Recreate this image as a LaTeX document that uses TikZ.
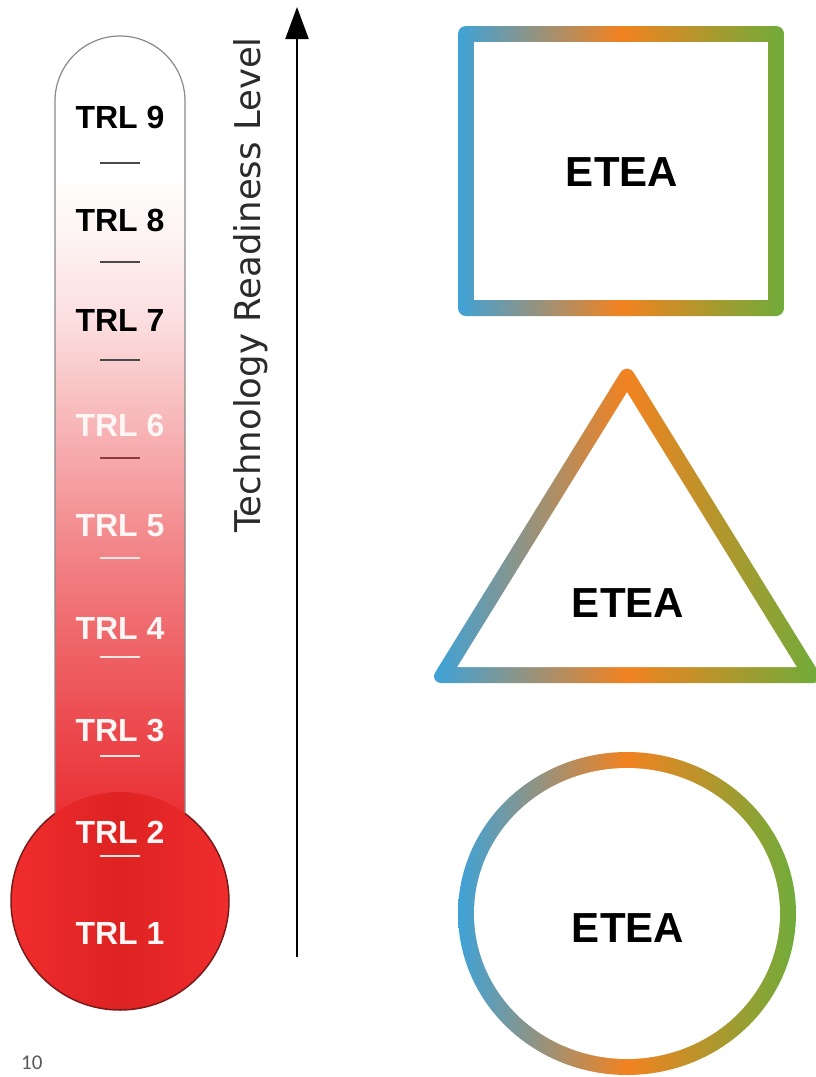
\documentclass[tikz,border=0pt]{standalone}
\usepackage{fontspec}
\setmainfont{Liberation Sans}
\newfontfamily\dejavu{DejaVu Sans}
\newfontfamily\carlito{Carlito}
\usetikzlibrary{arrows.meta}
\definecolor{gblue}{HTML}{3AA3DC}
\definecolor{gorange}{HTML}{F28220}
\definecolor{ggreen}{HTML}{6CAD3B}
\definecolor{tred}{HTML}{E8262B}
\definecolor{bulbdark}{HTML}{DE2222}
\definecolor{bulblight}{HTML}{F02D2D}
\definecolor{bulbline}{HTML}{7A1A1A}
\definecolor{tubeline}{HTML}{8A8A8A}
\definecolor{axisgray}{HTML}{2B2B2B}
\definecolor{pgnum}{HTML}{595959}
\definecolor{darktick}{HTML}{4A4A4A}
\definecolor{redtick}{HTML}{8A3A3E}
\definecolor{lighttick}{HTML}{FBE6E6}
\definecolor{lighttext}{HTML}{FFF6F6}
\begin{document}
\begin{tikzpicture}[x=1pt,y=-1pt,
  trl/.style={font=\bfseries\fontsize{32}{36}\selectfont, inner sep=0pt},
  etea/.style={font=\bfseries\fontsize{42}{48}\selectfont, inner sep=0pt, text=black},
  tickmark/.style={line width=2pt},
  ring/.style={left color=gblue, right color=ggreen, middle color=gorange},
  axislabel/.style={font=\dejavu\fontsize{35.5}{40}\selectfont, text=axisgray, rotate=90, anchor=base, inner sep=0pt}]
\useasboundingbox (0,0) rectangle (815,1077);
\fill[white] (0,0) rectangle (815,1077);

% ---------- thermometer tube ----------
\begin{scope}
\clip (55,880) -- (55,101) arc[start angle=180,end angle=360,radius=65] -- (185,880) -- cycle;
\foreach \ya/\yb/\pa/\pb in {30/170/0/0, 170/220/0/4, 220/320/4/15, 320/425/15/34, 425/525/34/52,
   525/628/52/69, 628/730/69/84, 730/820/84/96, 820/900/96/100}{
  \shade[top color=tred!\pa!white, bottom color=tred!\pb!white] (50,\ya) rectangle (190,\yb+0.6);
}
\end{scope}
\draw[tubeline, line width=1.2pt] (55,813.5) -- (55,101) arc[start angle=180,end angle=360,radius=65] -- (185,813.5);

% ---------- bulb ----------
\shade[left color=bulblight, right color=bulblight, middle color=bulbdark] (120,901) circle[radius=109];
\draw[bulbline, line width=1.5pt] (185,813.5) arc[start angle=-53.39, end angle=233.39, radius=109];

% ---------- tick marks ----------
\foreach \y in {163,262,360}{\draw[tickmark, darktick] (100,\y) -- (140,\y);}
\draw[tickmark, redtick] (100,458) -- (140,458);
\foreach \y in {558,657,756,856}{\draw[tickmark, lighttick] (100,\y) -- (140,\y);}

% ---------- TRL labels ----------
\node[trl, text=black] (t9) at (120,117) {TRL 9};
\node[trl, text=black] (t8) at (120,220) {TRL 8};
\node[trl, text=black] (t7) at (120,320) {TRL 7};
\node[trl, text=lighttext] (t6) at (120,425) {TRL 6};
\node[trl, text=lighttext] (t5) at (120,526) {TRL 5};
\node[trl, text=lighttext] (t4) at (120,628) {TRL 4};
\node[trl, text=lighttext] (t3) at (120,730) {TRL 3};
\node[trl, text=lighttext] (t2) at (120,832) {TRL 2};
\node[trl, text=lighttext] (t1) at (120,933) {TRL 1};

% ---------- axis ----------
\coordinate (abot) at (297,957);
\coordinate (atop) at (297,7);
\draw[line width=2.2pt, -{Triangle[length=32pt, width=23pt]}] (abot) -- (atop);
\node[axislabel] (axlab) at (260,285) {Technology Readiness Level};

% ---------- gradient shapes ----------
\begin{scope}
\clip[rounded corners=8pt] (458,26) rectangle (784,316);
\shade[ring] (454,22) rectangle (788,320);
\end{scope}
\fill[white] (474,42) rectangle (768,300);
\begin{scope}
\clip[rounded corners=13.5pt] (627,361.8) -- (825.34,683) -- (428.66,683) -- cycle;
\shade[ring] (431,358) rectangle (823,687);
\end{scope}
\fill[white] (627,392.2) -- (796.7,667) -- (457.3,667) -- cycle;
\begin{scope}
\clip plot[domain=0:358, samples=180] ({627+169*cos(\x)},{913.5+161.5*sin(\x)}) -- cycle;
\shade[ring] (454,748) rectangle (800,1079);
\end{scope}
\fill[white] plot[domain=0:358, samples=180] ({627+153*cos(\x)},{913.5+145.5*sin(\x)}) -- cycle;

\node[etea] (e1) at (622,172) {ETEA};
\node[etea] (e2) at (628,603) {ETEA};
\node[etea] (e3) at (628,928.5) {ETEA};

% ---------- page number ----------
\node[font=\carlito\fontsize{21}{24}\selectfont, text=pgnum, anchor=base west, inner sep=0pt] (pg) at (21,1069) {10};
\end{tikzpicture}
\end{document}
